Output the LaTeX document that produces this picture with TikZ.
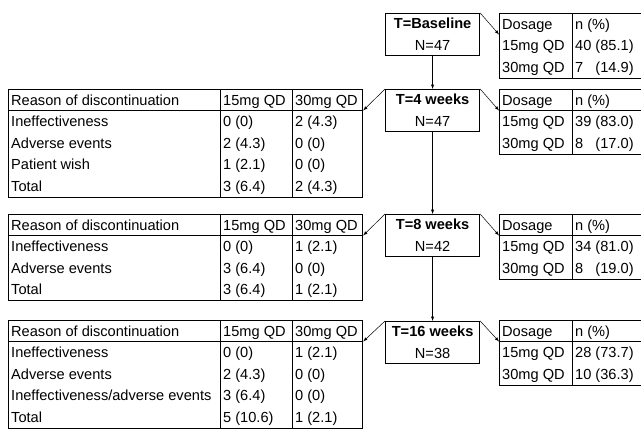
\documentclass[tikz,border=0pt]{standalone}
\usepackage{fontspec}
\setmainfont{Liberation Sans}
\usetikzlibrary{positioning}

\begin{document}
\begin{tikzpicture}[
    x=1pt, y=-1pt,
    font=\fontsize{14.6}{22}\selectfont,
    tbox/.style={rectangle, draw, line width=1.2pt, minimum width=94pt, minimum height=42pt, align=center, anchor=north west, inner sep=0pt},
    tabframe/.style={rectangle, draw, line width=1.2pt, anchor=north west, inner sep=0pt},
    dosframe/.style={tabframe, minimum width=161pt, minimum height=64.5pt},
    grid/.style={line width=1pt},
    cell/.style={anchor=base west, inner sep=0pt},
    arrow/.style={->, >=latex, line width=0.5pt}
]
\clip (0,0) rectangle (641,429);

% Time points
\node[tbox] (tb0) at (385,13) {\textbf{T=Baseline}\\N=47};
\node[tbox] (tb4) at (385,89) {\textbf{T=4 weeks}\\N=47};
\node[tbox] (tb8) at (385,214) {\textbf{T=8 weeks}\\N=42};
\node[tbox] (tb16) at (385,321) {\textbf{T=16 weeks}\\N=38};

% Dosage tables
\node[dosframe] (dos0) at (499,13) {};
\node[dosframe] (dos4) at (499,89) {};
\node[dosframe] (dos8) at (499,214) {};
\node[dosframe] (dos16) at (499,320) {};
\draw[grid] ([xshift=73pt]dos0.north west) -- ([xshift=73pt]dos0.south west);
\foreach \t in {dos4,dos8,dos16} {
  \draw[grid] ([xshift=73pt]\t.north west) -- ([xshift=73pt]\t.south west);
  \draw[grid] ([yshift=-21.5pt]\t.north west) -- ([yshift=-21.5pt]\t.north east);
}

\node[cell] at (502,29) {Dosage};
\node[cell] at (575,29) {n (\%)};
\node[cell] at (502,50.5) {15mg QD};
\node[cell] at (575,50.5) {40 (85.1)};
\node[cell] at (502,72) {30mg QD};
\node[cell] at (575,72) {7\phantom{0} (14.9)};

\node[cell] at (502,105) {Dosage};
\node[cell] at (575,105) {n (\%)};
\node[cell] at (502,126.5) {15mg QD};
\node[cell] at (575,126.5) {39 (83.0)};
\node[cell] at (502,148) {30mg QD};
\node[cell] at (575,148) {8\phantom{0} (17.0)};

\node[cell] at (502,230) {Dosage};
\node[cell] at (575,230) {n (\%)};
\node[cell] at (502,251.5) {15mg QD};
\node[cell] at (575,251.5) {34 (81.0)};
\node[cell] at (502,273) {30mg QD};
\node[cell] at (575,273) {8\phantom{0} (19.0)};

\node[cell] at (502,336) {Dosage};
\node[cell] at (575,336) {n (\%)};
\node[cell] at (502,357.5) {15mg QD};
\node[cell] at (575,357.5) {28 (73.7)};
\node[cell] at (502,379) {30mg QD};
\node[cell] at (575,379) {10 (36.3)};

% Discontinuation tables
\node[tabframe, minimum width=354pt, minimum height=107.5pt] (rsn4) at (8,89) {};
\node[tabframe, minimum width=354pt, minimum height=86pt] (rsn8) at (8,214) {};
\node[tabframe, minimum width=354pt, minimum height=107.5pt] (rsn16) at (8,320) {};
\foreach \t in {rsn4,rsn8,rsn16} {
  \draw[grid] ([xshift=212pt]\t.north west) -- ([xshift=212pt]\t.south west);
  \draw[grid] ([xshift=284pt]\t.north west) -- ([xshift=284pt]\t.south west);
  \draw[grid] ([yshift=-21.5pt]\t.north west) -- ([yshift=-21.5pt]\t.north east);
}

\node[cell] at (11,105) {Reason of discontinuation};
\node[cell] at (223,105) {15mg QD};
\node[cell] at (295,105) {30mg QD};
\node[cell] at (11,126.5) {Ineffectiveness};
\node[cell] at (223,126.5) {0 (0)};
\node[cell] at (295,126.5) {2 (4.3)};
\node[cell] at (11,148) {Adverse events};
\node[cell] at (223,148) {2 (4.3)};
\node[cell] at (295,148) {0 (0)};
\node[cell] at (11,169.5) {Patient wish};
\node[cell] at (223,169.5) {1 (2.1)};
\node[cell] at (295,169.5) {0 (0)};
\node[cell] at (11,191) {Total};
\node[cell] at (223,191) {3 (6.4)};
\node[cell] at (295,191) {2 (4.3)};

\node[cell] at (11,230) {Reason of discontinuation};
\node[cell] at (223,230) {15mg QD};
\node[cell] at (295,230) {30mg QD};
\node[cell] at (11,251.5) {Ineffectiveness};
\node[cell] at (223,251.5) {0 (0)};
\node[cell] at (295,251.5) {1 (2.1)};
\node[cell] at (11,273) {Adverse events};
\node[cell] at (223,273) {3 (6.4)};
\node[cell] at (295,273) {0 (0)};
\node[cell] at (11,294.5) {Total};
\node[cell] at (223,294.5) {3 (6.4)};
\node[cell] at (295,294.5) {1 (2.1)};

\node[cell] at (11,336) {Reason of discontinuation};
\node[cell] at (223,336) {15mg QD};
\node[cell] at (295,336) {30mg QD};
\node[cell] at (11,357.5) {Ineffectiveness};
\node[cell] at (223,357.5) {0 (0)};
\node[cell] at (295,357.5) {1 (2.1)};
\node[cell] at (11,379) {Adverse events};
\node[cell] at (223,379) {2 (4.3)};
\node[cell] at (295,379) {0 (0)};
\node[cell] at (11,400.5) {Ineffectiveness/adverse events};
\node[cell] at (223,400.5) {3 (6.4)};
\node[cell] at (295,400.5) {0 (0)};
\node[cell] at (11,422) {Total};
\node[cell] at (223,422) {5 (10.6)};
\node[cell] at (295,422) {1 (2.1)};

% Arrows
\draw[arrow] (tb0) -- (tb4);
\draw[arrow] (tb4) -- (tb8);
\draw[arrow] (tb8) -- (tb16);

\draw[arrow] (tb0.north east) -- ([yshift=-21.5pt]dos0.north west);
\draw[arrow] (tb4.north east) -- ([yshift=-21.5pt]dos4.north west);
\draw[arrow] (tb8.north east) -- ([yshift=-21.5pt]dos8.north west);
\draw[arrow] (tb16.north east) -- ([yshift=-21.5pt]dos16.north west);

\draw[arrow] (tb4.north west) -- ([yshift=-21.5pt]rsn4.north east);
\draw[arrow] (tb8.north west) -- ([yshift=-21.5pt]rsn8.north east);
\draw[arrow] (tb16.north west) -- ([yshift=-21.5pt]rsn16.north east);

\end{tikzpicture}
\end{document}
